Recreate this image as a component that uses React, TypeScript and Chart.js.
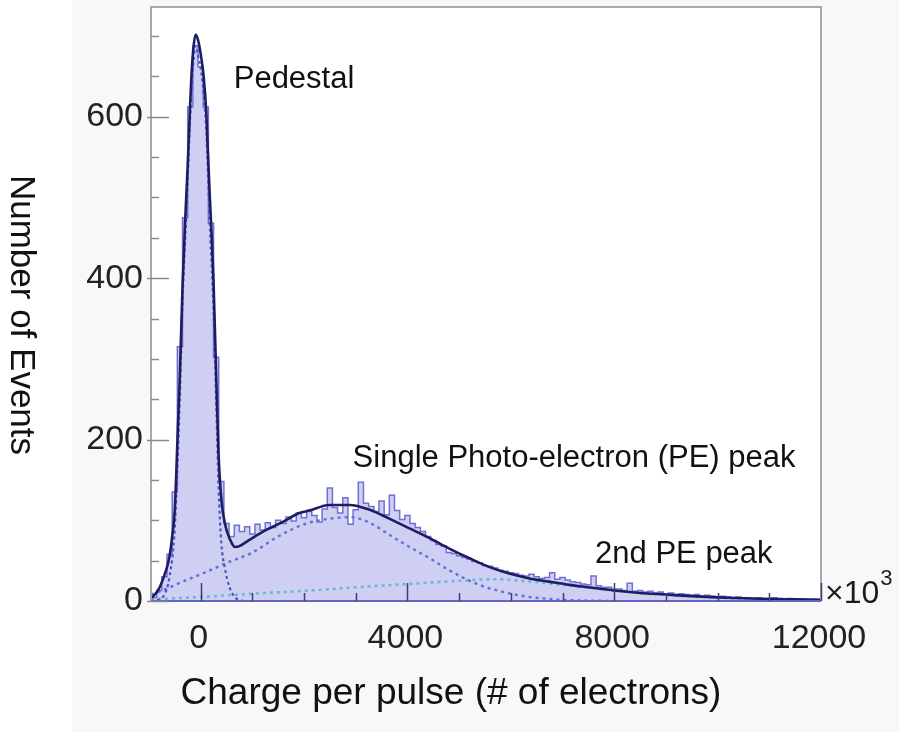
import React, { useEffect, useRef } from 'react';
import { Chart, registerables } from 'chart.js';

Chart.register(...registerables);

// ---------------- data ----------------
// histogram: bins of 100 electrons, first bin starts at -950
const BIN_START = -950;
const BIN_WIDTH = 100;
const histCounts = [
  4, 13, 30, 58, 135, 315, 475, 612, 688, 662,
  612, 468, 302, 148, 96, 80, 94, 86, 92, 83,
  95, 88, 97, 91, 100, 96, 104, 99, 109, 103,
  111, 106, 98, 114, 140, 116, 109, 128, 95, 113,
  147, 121, 117, 111, 124, 107, 131, 112, 101, 106,
  96, 91, 86, 80, 75, 70, 68, 60, 59, 56,
  54, 52, 49, 47, 44, 43, 41, 38, 37, 35,
  34, 32, 31, 33, 30, 28, 29, 35, 27, 29,
  26, 24, 23, 21, 20, 31, 19, 17, 17, 15,
  15, 13, 22, 12, 13, 11, 12, 10, 11, 9,
  10, 8, 9, 8, 7, 8, 6, 7, 6, 5,
  6, 5, 4, 5, 4, 4, 3, 4, 3, 3,
  4, 3, 2, 3, 2, 2, 2, 1, 2, 1,
];

// total fit
const fitX = [-960, -900, -800, -700, -650, -600, -550, -500, -470, -440, -405, -350, -300, -250, -212, -180, -140, -97, -50, 13, 58, 110, 135, 175, 215, 250, 303, 348, 390, 420, 470, 520, 600, 660, 750, 950, 1270, 1590, 1910, 2100, 2490, 2880, 3270, 3650, 4040, 4430, 4810, 5200, 5590, 5970, 6360, 6740, 7130, 7500, 8000, 8500, 9000, 9500, 10000, 10500, 11000, 11500, 12000];
const fitTotal = [4, 7, 16, 32, 42, 56, 80, 113, 160, 215, 274, 390, 470, 540, 600, 648, 685, 702, 695, 673, 650, 605, 565, 505, 450, 395, 275, 180, 135, 115, 96, 84, 72, 67, 68, 76, 88, 98, 109, 112, 119, 119, 113, 102, 90, 78, 65, 53, 42, 34, 28, 24, 20, 17, 13, 10, 8, 6, 4.5, 3.5, 2.5, 2, 1.5];

// pedestal component
const pedX = [-960, -800, -700, -600, -500, -450, -405, -350, -280, -212, -180, -140, -97, -50, 13, 58, 110, 175, 250, 303, 348, 400, 465, 560, 660, 750, 850];
const pedY = [0, 2, 8, 30, 90, 165, 245, 370, 475, 585, 632, 668, 688, 676, 655, 628, 582, 470, 360, 240, 140, 72, 42, 17, 5, 1, 0];

// single photo-electron component
const speX = [-960, -700, -350, 0, 500, 1000, 1500, 2000, 2500, 2900, 3300, 3650, 4040, 4430, 4810, 5390, 5970, 6360, 7000, 7500, 8000];
const speY = [8, 14, 24, 33, 47, 60, 80, 95, 102, 104, 96, 82, 67, 53, 38, 20, 9.5, 5, 1.5, 0.5, 0];

// 2nd photo-electron component
const pe2X = [-960, 0, 1000, 2000, 3000, 4000, 5000, 5700, 6400, 7000, 7500, 8000, 8500, 9000, 10000, 11000, 12000];
const pe2Y = [2, 5, 9, 12.5, 17, 21, 25, 27, 24, 20, 17, 13, 10, 7.5, 4, 2, 1];

const xTickLabels = [0, 4000, 8000, 12000];
const xMinorTicks = [1000, 2000, 3000, 5000, 6000, 7000, 9000, 10000, 11000];
const yTickLabels = [0, 200, 400, 600];
const yMinorTicks = [50, 100, 150, 250, 300, 350, 450, 500, 550, 650, 700];

const X_MIN = -960;
const X_MAX = 12000;
const Y_MAX = 736;

// ---------------- chart ----------------
const FONT = '"Liberation Sans", Arial, Helvetica, sans-serif';

const pts = (xs: number[], ys: number[]) => xs.map((x, i) => ({ x, y: ys[i] }));

const histPoints = () => {
  const p = histCounts.map((c, i) => ({ x: BIN_START + i * BIN_WIDTH, y: c }));
  p.push({ x: BIN_START + histCounts.length * BIN_WIDTH, y: histCounts[histCounts.length - 1] });
  return p;
};

const zeroPadding = (s: any) => {
  s.paddingTop = 0;
  s.paddingBottom = 0;
  s.paddingLeft = 0;
  s.paddingRight = 0;
};

const decorPlugin = {
  id: 'decor',
  beforeDraw(chart: any) {
    const { ctx, chartArea: a, width, height } = chart;
    ctx.save();
    ctx.fillStyle = '#ffffff';
    ctx.fillRect(0, 0, width, height);
    ctx.fillStyle = '#f8f8f8';
    ctx.fillRect(72, 0, width - 72, height);
    ctx.fillStyle = '#ffffff';
    ctx.fillRect(a.left, a.top, a.right - a.left, a.bottom - a.top);
    ctx.restore();
  },
  afterDatasetsDraw(chart: any) {
    const { ctx, chartArea: a, scales } = chart;
    const xs = scales.x;
    const ys = scales.y;
    ctx.save();
    // frame
    ctx.strokeStyle = '#a9a9a9';
    ctx.lineWidth = 2;
    ctx.beginPath();
    ctx.moveTo(a.left, a.bottom);
    ctx.lineTo(a.left, a.top);
    ctx.lineTo(a.right, a.top);
    ctx.lineTo(a.right, a.bottom);
    ctx.stroke();
    ctx.strokeStyle = '#6464c8';
    ctx.lineWidth = 2;
    ctx.beginPath();
    ctx.moveTo(a.left, a.bottom);
    ctx.lineTo(a.right, a.bottom);
    ctx.stroke();
    // y ticks
    ctx.strokeStyle = '#8a8a8a';
    ctx.lineWidth = 1.5;
    yTickLabels.forEach((v) => {
      const py = Math.round(ys.getPixelForValue(v)) + 0.5;
      ctx.beginPath();
      ctx.moveTo(a.left - 4, py);
      ctx.lineTo(a.left + 18, py);
      ctx.stroke();
    });
    yMinorTicks.forEach((v) => {
      const py = Math.round(ys.getPixelForValue(v)) + 0.5;
      ctx.beginPath();
      ctx.moveTo(a.left, py);
      ctx.lineTo(a.left + 8, py);
      ctx.stroke();
    });
    // x ticks
    ctx.strokeStyle = '#3c3c6e';
    xTickLabels.forEach((v) => {
      const px = Math.round(xs.getPixelForValue(v)) + 0.5;
      ctx.beginPath();
      ctx.moveTo(px, a.bottom);
      ctx.lineTo(px, a.bottom - 18);
      ctx.stroke();
    });
    xMinorTicks.forEach((v) => {
      const px = Math.round(xs.getPixelForValue(v)) + 0.5;
      ctx.beginPath();
      ctx.moveTo(px, a.bottom);
      ctx.lineTo(px, a.bottom - 8);
      ctx.stroke();
    });
    ctx.restore();
  },
  afterDraw(chart: any) {
    const { ctx, chartArea: a, scales } = chart;
    const xs = scales.x;
    const ys = scales.y;
    ctx.save();
    ctx.fillStyle = '#111111';
    ctx.textAlign = 'left';
    ctx.textBaseline = 'alphabetic';
    ctx.font = `31px ${FONT}`;
    ctx.fillText('Pedestal', xs.getPixelForValue(640), ys.getPixelForValue(636));
    ctx.fillText('Single Photo-electron (PE) peak', xs.getPixelForValue(2940), ys.getPixelForValue(166));
    ctx.fillText('2nd PE peak', xs.getPixelForValue(7630), ys.getPixelForValue(47));

    // ×10^3
    ctx.fillStyle = '#1b1b1b';
    ctx.font = `32px ${FONT}`;
    ctx.fillText('×10', a.right + 4, a.bottom + 2);
    const w = ctx.measureText('×10').width;
    ctx.font = `22px ${FONT}`;
    ctx.fillText('3', a.right + 4 + w + 1, a.bottom - 16);

    // axis titles
    ctx.fillStyle = '#111111';
    ctx.font = `37px ${FONT}`;
    ctx.textAlign = 'center';
    ctx.fillText('Charge per pulse (# of electrons)', 451, 704);

    ctx.font = `35px ${FONT}`;
    ctx.translate(11, 315);
    ctx.rotate(Math.PI / 2);
    ctx.fillText('Number of Events', 0, 0);
    ctx.restore();
  },
};

export default function App() {
  const ref = useRef<HTMLCanvasElement>(null);

  useEffect(() => {
    const canvas = ref.current;
    if (!canvas) return;
    const chart = new Chart(canvas, {
      type: 'line',
      data: {
        datasets: [
          {
            label: 'Fit',
            data: pts(fitX, fitTotal),
            borderColor: '#1d1d63',
            borderWidth: 2.6,
            pointRadius: 0,
            fill: false,
            cubicInterpolationMode: 'monotone',
            order: 0,
          },
          {
            label: 'Pedestal',
            data: pts(pedX, pedY),
            borderColor: '#4b55c2',
            borderWidth: 2.2,
            borderDash: [3, 3],
            pointRadius: 0,
            fill: false,
            cubicInterpolationMode: 'monotone',
            order: 1,
          },
          {
            label: 'Single PE',
            data: pts(speX, speY),
            borderColor: '#5f72d2',
            borderWidth: 2.4,
            borderDash: [3, 4],
            pointRadius: 0,
            fill: false,
            cubicInterpolationMode: 'monotone',
            order: 2,
          },
          {
            label: '2nd PE',
            data: pts(pe2X, pe2Y),
            borderColor: '#6db7d6',
            borderWidth: 2.6,
            borderDash: [3, 4],
            pointRadius: 0,
            fill: false,
            cubicInterpolationMode: 'monotone',
            order: 3,
          },
          {
            label: 'Histogram',
            data: histPoints(),
            stepped: 'before',
            borderColor: '#7070d4',
            borderWidth: 1.5,
            backgroundColor: '#cfcff4',
            fill: 'origin',
            pointRadius: 0,
            order: 5,
          },
        ],
      },
      options: {
        animation: false,
        responsive: false,
        devicePixelRatio: 1,
        events: [],
        layout: { padding: { left: 0, top: 7, right: 78, bottom: 0 } },
        plugins: {
          legend: { display: false },
          tooltip: { enabled: false },
        },
        scales: {
          x: {
            type: 'linear',
            min: X_MIN,
            max: X_MAX,
            grid: { display: false, drawTicks: false },
            border: { display: false },
            afterFit: (s: any) => {
              s.height = 131;
              zeroPadding(s);
            },
            afterBuildTicks: (s: any) => {
              s.ticks = xTickLabels.map((v) => ({ value: v }));
            },
            ticks: {
              autoSkip: false,
              maxRotation: 0,
              padding: 17,
              labelOffset: -2,
              color: '#222222',
              font: { family: FONT, size: 34 },
              callback: (v: any) => String(v),
            },
          },
          y: {
            type: 'linear',
            min: 0,
            max: Y_MAX,
            grid: { display: false, drawTicks: false },
            border: { display: false },
            afterFit: (s: any) => {
              s.width = 151;
              zeroPadding(s);
            },
            afterBuildTicks: (s: any) => {
              s.ticks = yTickLabels.map((v) => ({ value: v }));
            },
            ticks: {
              autoSkip: false,
              padding: 8,
              color: '#222222',
              font: { family: FONT, size: 34 },
              callback: (v: any) => String(v),
            },
          },
        },
      },
      plugins: [decorPlugin],
    } as any);
    return () => chart.destroy();
  }, []);

  return (
    <div style={{ position: 'fixed', left: 0, top: 0, width: 899, height: 732, background: '#ffffff' }}>
      <canvas ref={ref} width={899} height={732} style={{ display: 'block', width: 899, height: 732 }} />
    </div>
  );
}
